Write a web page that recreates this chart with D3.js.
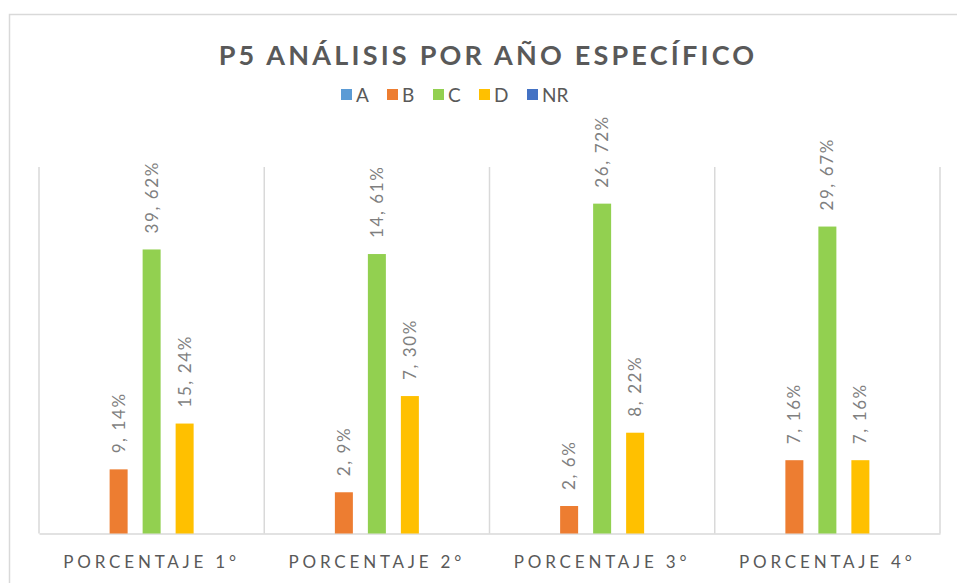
<!DOCTYPE html>
<html>
<head>
<meta charset="utf-8">
<script src="https://cdn.jsdelivr.net/npm/d3@7"></script>
<style>
  html, body { margin: 0; padding: 0; background: #fff; }
  svg { display: block; }
</style>
</head>
<body>
<svg id="chart" width="957" height="583"></svg>
<script>
// Categories and series
const categories = ["PORCENTAJE 1°", "PORCENTAJE 2°", "PORCENTAJE 3°", "PORCENTAJE 4°"];
const seriesNames = ["A", "B", "C", "D", "NR"];
const seriesColors = ["#5B9BD5", "#ED7D31", "#92D050", "#FFC000", "#4472C4"];

// Counts per answer for each year
const countA  = [null, null, null, null];
const countB  = [9, 2, 2, 7];
const countC  = [39, 14, 26, 29];
const countD  = [15, 7, 8, 7];
const countNR = [null, null, null, null];

// Percentages per answer for each year
const pctA  = [null, null, null, null];
const pctB  = [14, 9, 6, 16];
const pctC  = [62, 61, 72, 67];
const pctD  = [24, 30, 22, 16];
const pctNR = [null, null, null, null];

const counts = [countA, countB, countC, countD, countNR];
const pcts = [pctA, pctB, pctC, pctD, pctNR];

const svg = d3.select("#chart");
const font = "Lato, 'Open Sans', sans-serif";

// Chart area border
svg.append("rect")
  .attr("x", 9.5).attr("y", 14.5)
  .attr("width", 1000).attr("height", 700)
  .attr("fill", "#fff")
  .attr("stroke", "#d9d9d9")
  .attr("stroke-width", 1.5);

// Title
svg.append("text")
  .attr("x", 488).attr("y", 65)
  .attr("text-anchor", "middle")
  .attr("font-family", font)
  .attr("font-weight", "bold")
  .attr("font-size", 27)
  .attr("letter-spacing", 3.2)
  .attr("fill", "#595959")
  .text("P5 ANÁLISIS POR AÑO ESPECÍFICO");

// Legend
const legendX = [341, 387, 433, 479, 527];
const legend = svg.append("g");
seriesNames.forEach((name, i) => {
  legend.append("rect")
    .attr("x", legendX[i]).attr("y", 89)
    .attr("width", 11).attr("height", 11)
    .attr("fill", seriesColors[i]);
  legend.append("text")
    .attr("x", legendX[i] + 15).attr("y", 102)
    .attr("font-family", font)
    .attr("font-size", 19)
    .attr("fill", "#595959")
    .text(name);
});

// Scales
const plotLeft = 39, plotRight = 940, plotTop = 167, plotBottom = 533.5;
const x0 = d3.scaleBand().domain(categories).range([plotLeft, plotRight]).padding(0);
const bw = x0.bandwidth();
const x1 = d3.scaleBand().domain(seriesNames)
  .range([bw / 2 - 82.5, bw / 2 + 82.5])
  .paddingInner(15 / 33).paddingOuter(15 / 66);
const y = d3.scaleLinear().domain([0, 80]).range([plotBottom, plotTop]);

// Vertical separators between categories
const edges = categories.map(c => x0(c)).concat([plotRight]);
svg.append("g").selectAll("line").data(edges).join("line")
  .attr("x1", d => d).attr("x2", d => d)
  .attr("y1", plotTop).attr("y2", plotBottom)
  .attr("stroke", "#d9d9d9").attr("stroke-width", 1.5);

// Category axis
const xAxis = svg.append("g")
  .attr("transform", `translate(0,${plotBottom})`)
  .call(d3.axisBottom(x0).tickSize(0).tickPadding(22));
xAxis.select(".domain").attr("stroke", "#d9d9d9").attr("stroke-width", 1.5);
xAxis.selectAll("text")
  .attr("font-family", font)
  .attr("font-size", 17)
  .attr("letter-spacing", 3.8)
  .attr("fill", "#595959");

// Bars and value labels
const groups = svg.append("g").selectAll("g").data(categories).join("g")
  .attr("transform", d => `translate(${x0(d)},0)`);

seriesNames.forEach((name, si) => {
  const rows = categories.map((c, ci) => ({ c, ci, v: pcts[si][ci], n: counts[si][ci] }))
    .filter(r => r.v != null);
  groups.each(function(cat) {
    const r = rows.find(d => d.c === cat);
    if (!r) return;
    const g = d3.select(this);
    g.append("rect")
      .attr("x", x1(name)).attr("width", x1.bandwidth())
      .attr("y", y(r.v)).attr("height", plotBottom - y(r.v))
      .attr("fill", seriesColors[si]);
    const cx = x1(name) + x1.bandwidth() / 2;
    const ty = y(r.v) - 16;
    g.append("text")
      .attr("transform", `translate(${cx + 6},${ty}) rotate(-90)`)
      .attr("font-family", font)
      .attr("font-size", 17)
      .attr("letter-spacing", 1.6)
      .attr("fill", "#7f7f7f")
      .text(`${r.n},  ${r.v}%`);
  });
});
</script>
</body>
</html>
